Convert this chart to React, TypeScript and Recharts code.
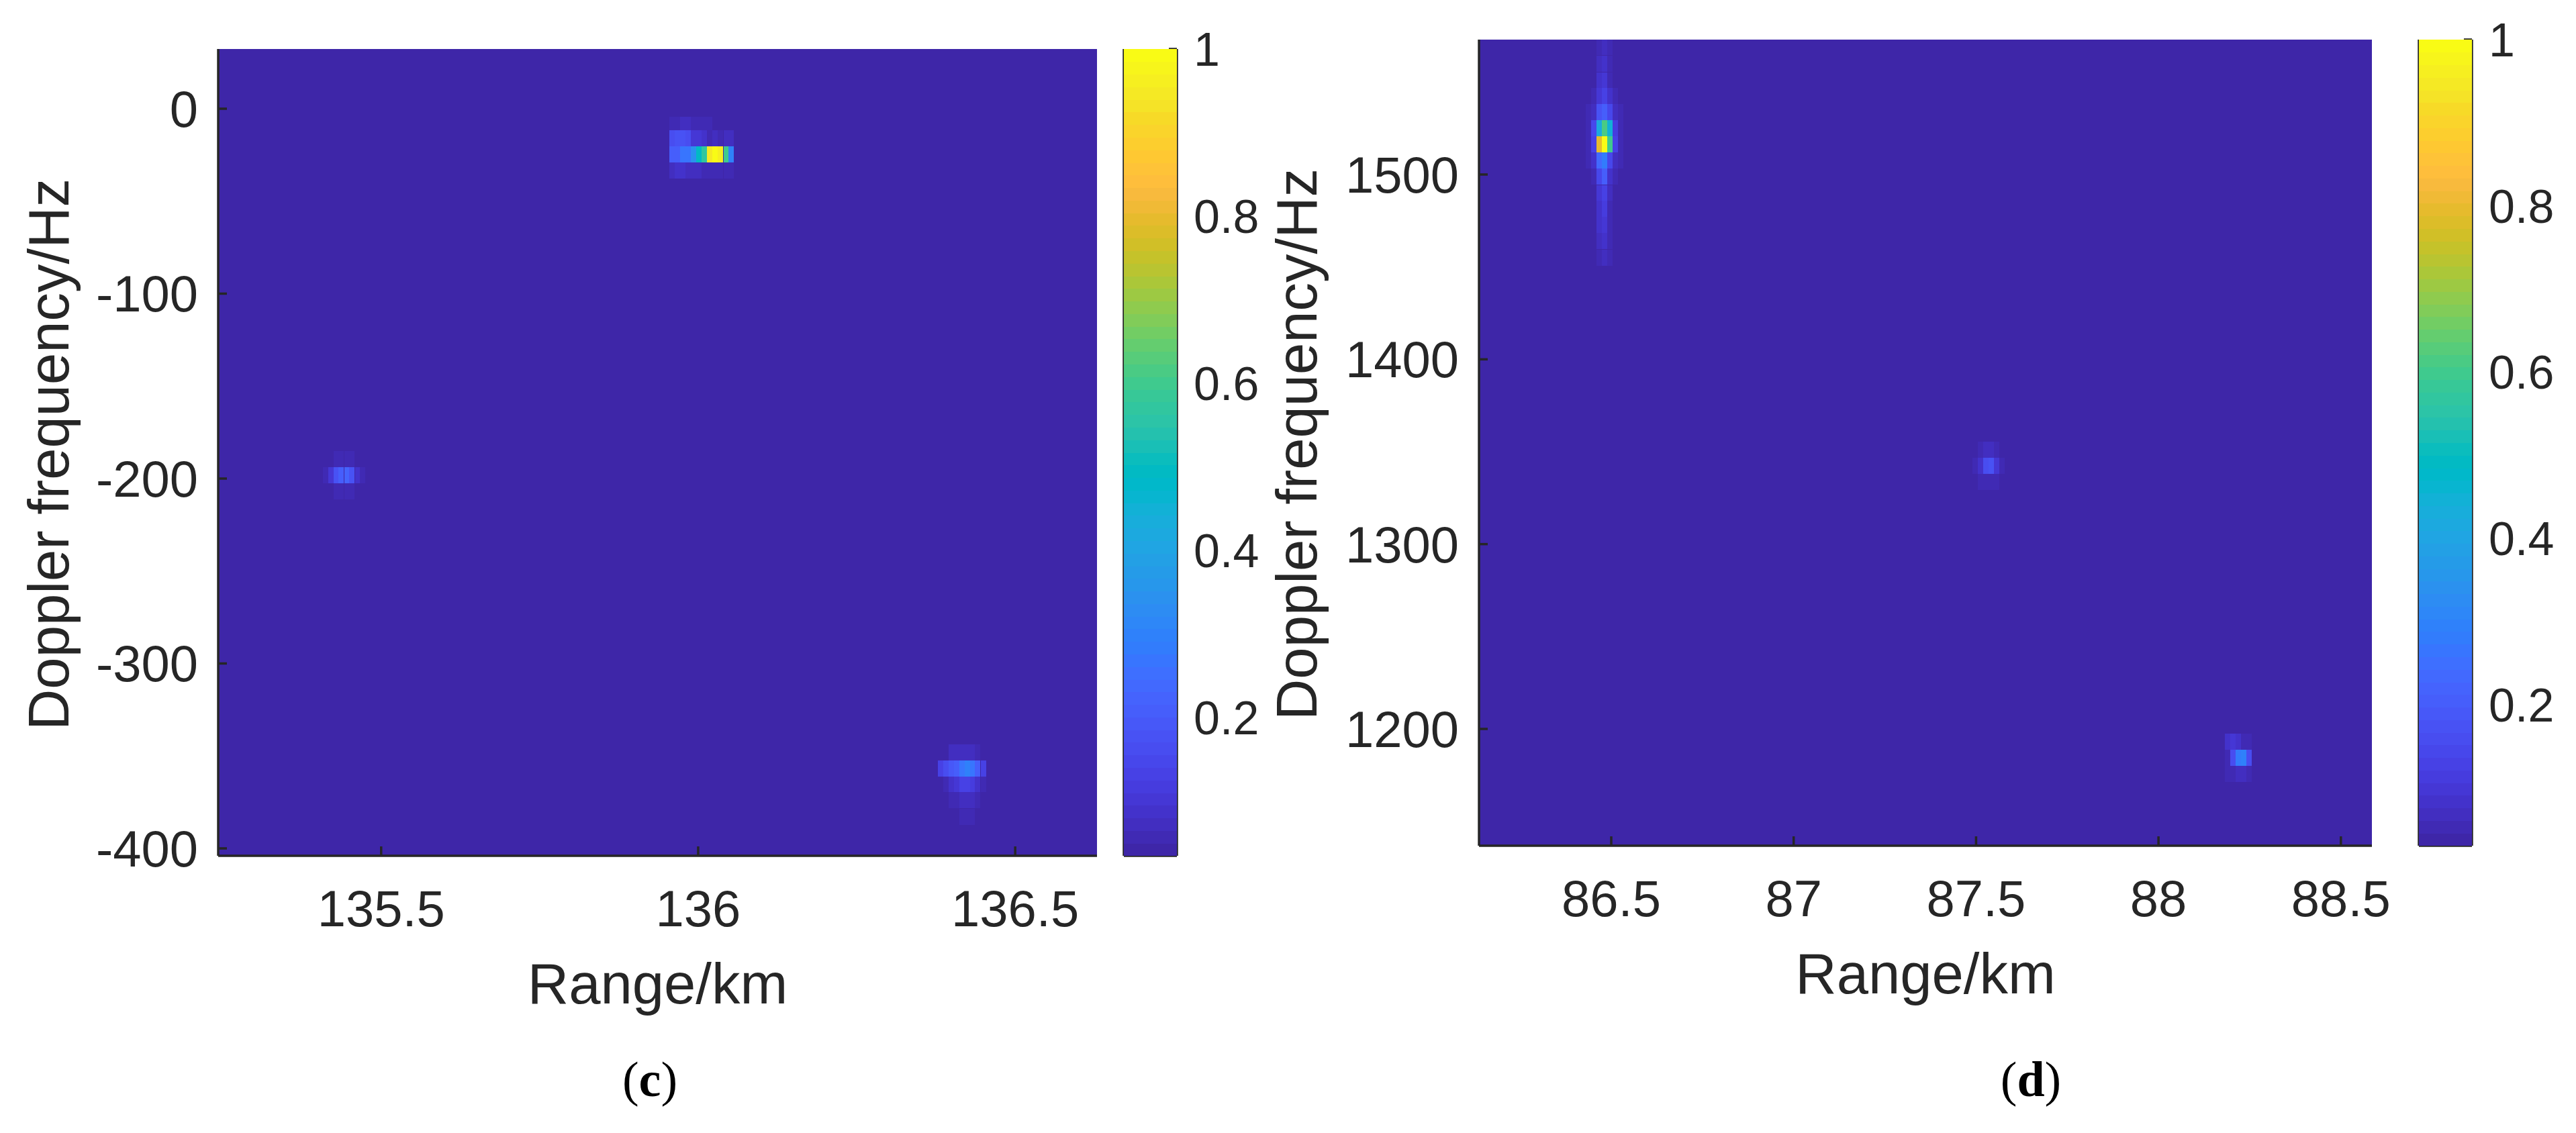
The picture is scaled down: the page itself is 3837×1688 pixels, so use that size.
import { CartesianGrid, Scatter, ScatterChart, XAxis, YAxis } from 'recharts'

// parula colormap, 64 levels
const PARULA: number[][] = [
  [0.2422, 0.1504, 0.6603], [0.2504, 0.165, 0.7076], [0.2578, 0.1818, 0.7511], [0.2647, 0.1978, 0.7952],
  [0.2706, 0.2147, 0.8364], [0.2751, 0.2342, 0.871], [0.2783, 0.2559, 0.8991], [0.2803, 0.2782, 0.9221],
  [0.2813, 0.3006, 0.9414], [0.281, 0.3228, 0.9579], [0.2795, 0.3447, 0.9717], [0.276, 0.3667, 0.9829],
  [0.2699, 0.3892, 0.9906], [0.2602, 0.4123, 0.9952], [0.244, 0.4358, 0.9988], [0.2206, 0.4603, 0.9973],
  [0.1963, 0.4847, 0.9892], [0.1834, 0.5074, 0.9798], [0.1786, 0.5289, 0.9682], [0.1764, 0.5499, 0.952],
  [0.1687, 0.5703, 0.9359], [0.154, 0.5902, 0.9218], [0.146, 0.6091, 0.9079], [0.138, 0.6276, 0.8973],
  [0.1248, 0.6459, 0.8883], [0.1113, 0.6635, 0.8763], [0.0952, 0.6798, 0.8598], [0.0689, 0.6948, 0.8394],
  [0.0297, 0.7082, 0.8163], [0.0036, 0.7203, 0.7917], [0.0067, 0.7312, 0.766], [0.0433, 0.7411, 0.7394],
  [0.0964, 0.75, 0.712], [0.1408, 0.7584, 0.6842], [0.1717, 0.767, 0.6554], [0.1938, 0.7758, 0.6251],
  [0.2161, 0.7843, 0.5923], [0.247, 0.7918, 0.5567], [0.2906, 0.7973, 0.5188], [0.3406, 0.8008, 0.4789],
  [0.3909, 0.8029, 0.4354], [0.4456, 0.8024, 0.3909], [0.5044, 0.7993, 0.348], [0.5616, 0.7942, 0.3045],
  [0.6174, 0.7876, 0.2612], [0.672, 0.7793, 0.2227], [0.7242, 0.7698, 0.191], [0.7738, 0.7598, 0.1646],
  [0.8203, 0.7498, 0.1535], [0.8634, 0.7406, 0.1596], [0.9035, 0.733, 0.1774], [0.9393, 0.7288, 0.21],
  [0.9728, 0.7298, 0.2394], [0.9956, 0.7434, 0.2371], [0.997, 0.7659, 0.2199], [0.9952, 0.7861, 0.1967],
  [0.9892, 0.8086, 0.1817], [0.9786, 0.8317, 0.169], [0.9676, 0.8553, 0.1541], [0.961, 0.889, 0.1537],
  [0.9597, 0.9135, 0.1423], [0.9628, 0.9373, 0.1265], [0.9691, 0.9606, 0.1064], [0.9769, 0.9839, 0.0805],
]

// panel (c)
const cRangeTicks = [135.5, 136, 136.5]
const cDopplerTicks = [-400, -300, -200, -100, 0]

const cTopRanges = [135.959, 135.967, 135.976, 135.984, 135.993, 136.001, 136.01, 136.018, 136.027, 136.035, 136.044, 136.052]
const cTopDopplers = [-8.7, -16, -24.7, -33.4, -42.1]
const cTopValues = [
  [0.05, 0.055, 0.06, 0.06, 0.055, 0.05, 0.045, 0.045, 0.04, 0.04, 0.04, 0.04],
  [0.16, 0.17, 0.17, 0.16, 0.1, 0.1, 0.08, 0.055, 0.06, 0.055, 0.06, 0.06],
  [0.2, 0.21, 0.27, 0.27, 0.34, 0.49, 0.57, 0.95, 1, 0.97, 0.6, 0.3],
  [0.07, 0.075, 0.075, 0.07, 0.06, 0.06, 0.05, 0.045, 0.05, 0.045, 0.045, 0.045],
  [0.04, 0.04, 0.04, 0.04, 0.04, 0.04, 0.04, 0.04, 0.04, 0.04, 0.04, 0.04],
]

const cLeftRanges = [135.412, 135.421, 135.429, 135.437, 135.446, 135.454, 135.463, 135.471]
const cLeftDopplers = [-189.6, -198.3, -207]
const cLeftValues = [
  [0.035, 0.04, 0.045, 0.05, 0.05, 0.045, 0.04, 0.035],
  [0.05, 0.09, 0.17, 0.21, 0.22, 0.17, 0.08, 0.05],
  [0.035, 0.04, 0.05, 0.05, 0.05, 0.045, 0.04, 0.035],
]

const cLowRanges = [136.382, 136.391, 136.399, 136.408, 136.416, 136.425, 136.433, 136.441, 136.45]
const cLowDopplers = [-348, -356.8, -365.5, -374, -383]
const cLowValues = [
  [0.04, 0.04, 0.06, 0.06, 0.07, 0.07, 0.06, 0.05, 0.04],
  [0.13, 0.15, 0.19, 0.2, 0.27, 0.29, 0.27, 0.2, 0.12],
  [0.04, 0.045, 0.08, 0.09, 0.12, 0.12, 0.11, 0.08, 0.05],
  [0.04, 0.04, 0.05, 0.05, 0.07, 0.07, 0.06, 0.05, 0.04],
  [0.04, 0.04, 0.04, 0.04, 0.045, 0.045, 0.045, 0.04, 0.04],
]

// panel (d)
const dRangeTicks = [86.5, 87, 87.5, 88, 88.5]
const dDopplerTicks = [1200, 1300, 1400, 1500]

const dTopRanges = [86.437, 86.452, 86.467, 86.482, 86.496, 86.511, 86.526]
const dTopDopplers = [1569, 1560, 1551, 1542.5, 1533.8, 1525, 1516.4, 1507.7, 1499, 1490, 1481.5, 1472.8, 1464, 1455]
const dTopValues = [
  [0.03, 0.03, 0.05, 0.055, 0.04, 0.03, 0.03],
  [0.03, 0.03, 0.06, 0.07, 0.04, 0.03, 0.03],
  [0.03, 0.035, 0.07, 0.09, 0.05, 0.035, 0.03],
  [0.035, 0.04, 0.09, 0.12, 0.07, 0.04, 0.035],
  [0.04, 0.06, 0.17, 0.2, 0.14, 0.06, 0.04],
  [0.05, 0.14, 0.42, 0.62, 0.45, 0.1, 0.05],
  [0.05, 0.12, 0.8, 1, 0.6, 0.12, 0.05],
  [0.04, 0.08, 0.23, 0.27, 0.14, 0.06, 0.04],
  [0.035, 0.045, 0.14, 0.2, 0.08, 0.04, 0.035],
  [0.03, 0.035, 0.09, 0.12, 0.06, 0.035, 0.03],
  [0.03, 0.035, 0.08, 0.1, 0.05, 0.035, 0.03],
  [0.03, 0.035, 0.07, 0.09, 0.045, 0.035, 0.03],
  [0.03, 0.03, 0.06, 0.07, 0.04, 0.03, 0.03],
  [0.03, 0.03, 0.05, 0.06, 0.04, 0.03, 0.03],
]

const dMidRanges = [87.497, 87.512, 87.527, 87.541, 87.556, 87.571]
const dMidDopplers = [1351, 1342.4, 1333.7, 1325]
const dMidValues = [
  [0.035, 0.04, 0.06, 0.06, 0.04, 0.035],
  [0.05, 0.08, 0.16, 0.17, 0.09, 0.05],
  [0.035, 0.05, 0.05, 0.05, 0.04, 0.035],
  [0.035, 0.035, 0.035, 0.035, 0.035, 0.035],
]

const dLowRanges = [88.189, 88.204, 88.218, 88.233, 88.248]
const dLowDopplers = [1193, 1184.4, 1175.7]
const dLowValues = [
  [0.07, 0.09, 0.08, 0.05, 0.05],
  [0.05, 0.15, 0.28, 0.29, 0.15],
  [0.04, 0.05, 0.06, 0.06, 0.04],
]

const colorbarTicks = [0.2, 0.4, 0.6, 0.8, 1]

const INK = '#262626'
const FONT = '"Liberation Sans", Arial, sans-serif'
const STROKE = 3.5

function toCells(ranges: number[], dopplers: number[], values: number[][]) {
  return dopplers.flatMap((doppler, i) =>
    ranges.map((range, j) => ({ range, doppler, intensity: values[i][j] }))
  )
}

const cCells = [
  ...toCells(cTopRanges, cTopDopplers, cTopValues),
  ...toCells(cLeftRanges, cLeftDopplers, cLeftValues),
  ...toCells(cLowRanges, cLowDopplers, cLowValues),
]
const dCells = [
  ...toCells(dTopRanges, dTopDopplers, dTopValues),
  ...toCells(dMidRanges, dMidDopplers, dMidValues),
  ...toCells(dLowRanges, dLowDopplers, dLowValues),
]

function parula(value: number, cMin: number) {
  const t = Math.max(0, Math.min(1, (value - cMin) / (1 - cMin)))
  const [r, g, b] = PARULA[Math.round(t * 63)]
  return `rgb(${Math.round(r * 255)},${Math.round(g * 255)},${Math.round(b * 255)})`
}

const PARULA_BG = parula(0, 0)

interface PanelProps {
  left: number
  plotLeft: number
  plotRight: number
  plotTop: number
  plotBottom: number
  xDomain: [number, number]
  yDomain: [number, number]
  xTicks: number[]
  yTicks: number[]
  cells: { range: number; doppler: number; intensity: number }[]
  cMin: number
  labelXBase: number
  labelYMid: number
  labelYBase: number
}

const CELL_W = 8
const CELL_H = 24
const RIGHT_PAD = 70

function HeatPanel(p: PanelProps) {
  const width = p.plotRight + RIGHT_PAD
  const height = 1688
  const tickStyle = { fill: INK, fontSize: 76, fontFamily: FONT }
  const line = { stroke: INK, strokeWidth: STROKE }
  return (
    <div style={{ position: 'absolute', left: p.left, top: 0 }}>
      <ScatterChart
        width={width}
        height={height}
        margin={{ top: p.plotTop, right: RIGHT_PAD, bottom: 0, left: 0 }}
      >
        <CartesianGrid horizontal={false} vertical={false} fill={PARULA_BG} />
        <XAxis
          xAxisId="bottom"
          type="number"
          dataKey="range"
          orientation="bottom"
          domain={p.xDomain}
          ticks={p.xTicks}
          interval={0}
          allowDataOverflow
          height={height - p.plotBottom}
          tickSize={-14}
          tickMargin={65}
          tick={tickStyle}
          axisLine={line}
          tickLine={line}
        />
        <XAxis
          xAxisId="top"
          type="number"
          orientation="top"
          domain={p.xDomain}
          ticks={p.xTicks}
          interval={0}
          allowDataOverflow
          height={0}
          tickSize={-14}
          tick={false}
          axisLine={line}
          tickLine={line}
        />
        <YAxis
          yAxisId="left"
          type="number"
          dataKey="doppler"
          orientation="left"
          domain={p.yDomain}
          ticks={p.yTicks}
          interval={0}
          allowDataOverflow
          width={p.plotLeft}
          tickSize={-13}
          tickMargin={43}
          tick={tickStyle}
          axisLine={line}
          tickLine={line}
        />
        <YAxis
          yAxisId="right"
          type="number"
          orientation="right"
          domain={p.yDomain}
          ticks={p.yTicks}
          interval={0}
          allowDataOverflow
          width={0}
          tickSize={-13}
          tick={false}
          axisLine={line}
          tickLine={line}
        />
        <Scatter
          xAxisId="bottom"
          yAxisId="left"
          data={p.cells}
          isAnimationActive={false}
          shape={(s: any) => (
            <rect
              x={s.cx - CELL_W / 2}
              y={s.cy - CELL_H / 2}
              width={CELL_W}
              height={CELL_H}
              fill={parula(s.payload.intensity, p.cMin)}
              shapeRendering="crispEdges"
            />
          )}
        />
        <text
          x={(p.plotLeft + p.plotRight) / 2}
          y={p.labelXBase}
          textAnchor="middle"
          fill={INK}
          fontSize={85}
          fontFamily={FONT}
        >
          Range/km
        </text>
        <text
          transform={`translate(${p.labelYBase},${p.labelYMid}) rotate(-90)`}
          textAnchor="middle"
          fill={INK}
          fontSize={85}
          fontFamily={FONT}
        >
          Doppler frequency/Hz
        </text>
      </ScatterChart>
    </div>
  )
}

function Colorbar({ left, plotTop, plotBottom, cMin }: { left: number; plotTop: number; plotBottom: number; cMin: number }) {
  const barW = 79
  const levels = PARULA.map((_, i) => ({ slot: 0.5, level: cMin + ((i + 0.5) / 64) * (1 - cMin) }))
  const stepH = (plotBottom - plotTop) / 64
  const line = { stroke: INK, strokeWidth: STROKE }
  return (
    <div style={{ position: 'absolute', left, top: 0 }}>
      <ScatterChart width={barW + 180} height={1688} margin={{ top: plotTop, right: 0, bottom: 0, left: 0 }}>
        <XAxis xAxisId="b" type="number" dataKey="slot" domain={[0, 1]} ticks={[]} height={1688 - plotBottom} tick={false} tickLine={false} axisLine={line} />
        <XAxis xAxisId="t" type="number" orientation="top" domain={[0, 1]} ticks={[]} height={0} tick={false} tickLine={false} axisLine={line} />
        <YAxis yAxisId="l" type="number" orientation="left" domain={[cMin, 1]} ticks={[]} width={4} tick={false} tickLine={false} axisLine={line} />
        <Scatter
          xAxisId="b"
          yAxisId="r"
          data={levels}
          isAnimationActive={false}
          shape={(s: any) => (
            <rect
              x={s.cx - barW / 2}
              y={s.cy - stepH / 2}
              width={barW}
              height={stepH + 0.5}
              fill={parula(s.payload.level, cMin)}
              shapeRendering="crispEdges"
            />
          )}
        />
        <YAxis
          yAxisId="r"
          type="number"
          dataKey="level"
          orientation="right"
          domain={[cMin, 1]}
          ticks={colorbarTicks}
          interval={0}
          allowDataOverflow
          width={176}
          tickSize={-12}
          tickMargin={37}
          tick={{ fill: INK, fontSize: 70, fontFamily: FONT }}
          axisLine={line}
          tickLine={line}
        />
      </ScatterChart>
    </div>
  )
}

function Caption({ x, y, letter }: { x: number; y: number; letter: string }) {
  return (
    <div
      style={{
        position: 'absolute',
        left: x,
        top: y,
        transform: 'translate(-50%, -50%)',
        fontFamily: '"Liberation Serif", "Times New Roman", serif',
        fontSize: 74,
        color: '#000',
        lineHeight: 1,
      }}
    >
      (<b>{letter}</b>)
    </div>
  )
}

export default function App() {
  return (
    <div style={{ position: 'absolute', left: 0, top: 0, width: 3837, height: 1688, background: '#fff', overflow: 'hidden' }}>
      <HeatPanel
        left={0}
        plotLeft={325}
        plotRight={1634}
        plotTop={73}
        plotBottom={1275}
        xDomain={[135.243, 136.629]}
        yDomain={[-404, 32.3]}
        xTicks={cRangeTicks}
        yTicks={cDopplerTicks}
        cells={cCells}
        cMin={0.0345}
        labelXBase={1495}
        labelYMid={677}
        labelYBase={102}
      />
      <Colorbar left={1670} plotTop={73} plotBottom={1275} cMin={0.0345} />
      <HeatPanel
        left={1850}
        plotLeft={353}
        plotRight={1683}
        plotTop={59}
        plotBottom={1260}
        xDomain={[86.1375, 88.585]}
        yDomain={[1136.8, 1573]}
        xTicks={dRangeTicks}
        yTicks={dDopplerTicks}
        cells={dCells}
        cMin={0.0305}
        labelXBase={1480}
        labelYMid={662}
        labelYBase={111}
      />
      <Colorbar left={3599} plotTop={59} plotBottom={1260} cMin={0.0305} />
      <Caption x={968} y={1608} letter="c" />
      <Caption x={3025} y={1608} letter="d" />
    </div>
  )
}
